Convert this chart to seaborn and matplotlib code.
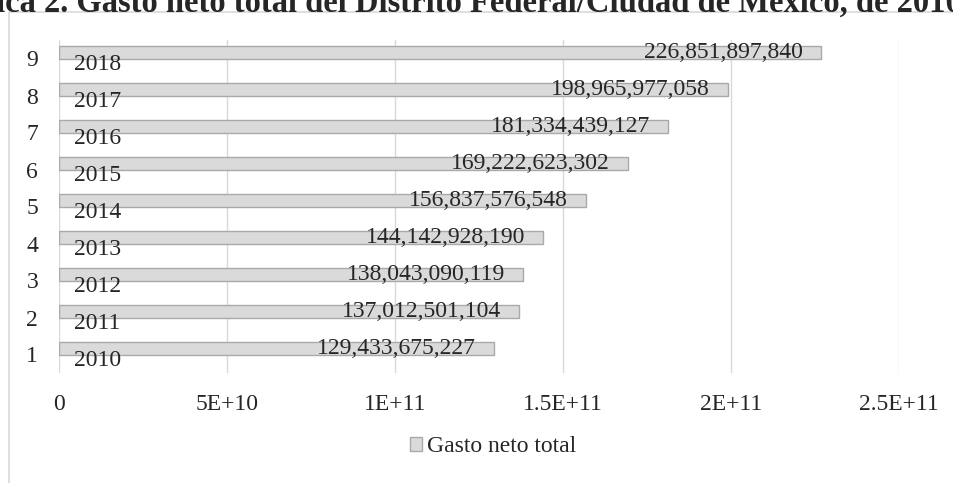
import matplotlib.pyplot as plt
import numpy as np
import seaborn as sns
import pandas as pd
from matplotlib.patches import Rectangle

# Data
rows = ['1', '2', '3', '4', '5', '6', '7', '8', '9']
years = [2010, 2011, 2012, 2013, 2014, 2015, 2016, 2017, 2018]
gasto = [129433675227, 137012501104, 138043090119, 144142928190, 156837576548,
         169222623302, 181334439127, 198965977058, 226851897840]
xticks = [0, 5e10, 1e11, 1.5e11, 2e11, 2.5e11]
xtick_labels = ['0', '5E+10', '1E+11', '1.5E+11', '2E+11', '2.5E+11']
title = 'Gráfica 2. Gasto neto total del Distrito Federal/Ciudad de México, de 2010 a 2018'

# Long table: Gasto first (upper bar in each band), Año second (invisible bar)
df = pd.concat([
    pd.DataFrame({'fila': rows, 'serie': 'Gasto neto total', 'valor': gasto}),
    pd.DataFrame({'fila': rows, 'serie': 'Año', 'valor': years}),
], ignore_index=True)

sns.set_style('white')
plt.rcParams['font.family'] = ['Liberation Serif', 'DejaVu Serif']
plt.rcParams['font.size'] = 17

fig = plt.figure(figsize=(9.54, 4.83), dpi=100)
ax = fig.add_axes([59 / 954, 1 - 373 / 483, 840 / 954, 333 / 483])

sns.barplot(data=df, x='valor', y='fila', hue='serie', order=rows[::-1],
            hue_order=['Gasto neto total', 'Año'], orient='h', width=0.7,
            palette={'Gasto neto total': '#dadada', 'Año': '#dadada'},
            edgecolor='#a9a9a9', linewidth=1, ax=ax, legend=False)

gasto_bars, year_bars = ax.containers[0], ax.containers[1]
for p in year_bars:
    p.set_visible(False)

# value labels inside end
lbls = ax.bar_label(gasto_bars, labels=[f'{v:,}' for v in gasto[::-1]],
                    padding=-13, fontsize=17)
for t in lbls:
    t.set_ha('right')
# year labels near base
ax.bar_label(year_bars, labels=[str(y) for y in years[::-1]], padding=11, fontsize=17)

ax.set_xlim(0, 2.5e11)
ax.set_xticks(xticks)
ax.set_xticklabels(xtick_labels)
ax.set_xlabel('')
ax.set_ylabel('')
ax.grid(axis='x', color='#d9d9d9', lw=1)
ax.grid(axis='y', visible=False)
ax.set_axisbelow(True)
ax.tick_params(axis='x', length=0, pad=15)
ax.tick_params(axis='y', length=0, pad=15)
sns.despine(ax=ax, left=True, bottom=True)

# legend
handle = Rectangle((0, 0), 1, 1, facecolor='#dadada', edgecolor='#a9a9a9', lw=1)
fig.legend([handle], ['Gasto neto total'], loc='center', bbox_to_anchor=(0.517, 1 - 447 / 483),
           frameon=False, fontsize=17, handlelength=0.5, handleheight=0.5,
           handletextpad=0.25)

# chart frame (cut off at right/bottom)
fig.add_artist(Rectangle((9 / 954, -0.2), 1.2, 1.2 - 12 / 483, transform=fig.transFigure,
                         fill=False, edgecolor='#d9d9d9', lw=1.2))

# title, cut off by the image edges as in the source
fig.text(0.518, 1 - 12 / 483, title, ha='center', va='baseline',
         fontsize=23.5, fontweight='bold')

fig.savefig('out.png', dpi=100)
